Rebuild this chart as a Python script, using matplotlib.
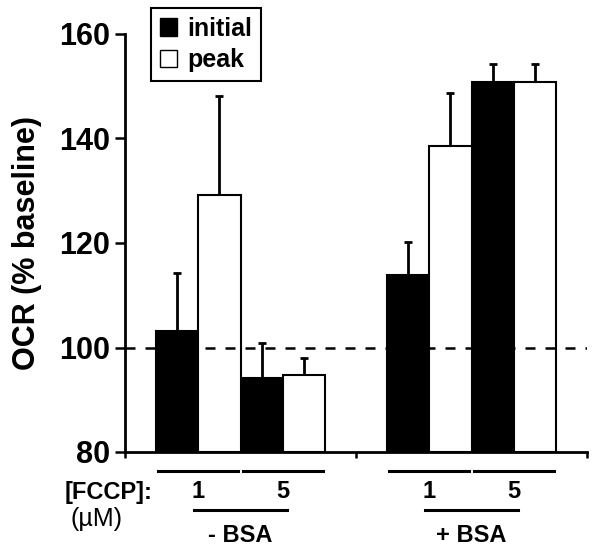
import matplotlib
matplotlib.use("Agg")
import matplotlib.pyplot as plt
import numpy as np
from matplotlib.transforms import blended_transform_factory
from matplotlib.patches import Patch

plt.rcParams['font.family'] = ['Liberation Sans', 'DejaVu Sans']
plt.rcParams['font.weight'] = 'bold'

groups = ['- BSA', '+ BSA']
fccp = ['1', '5']
initial = [103.2, 94.1, 113.9, 150.8]
initial_err = [11.0, 6.8, 6.2, 3.5]
peak = [129.1, 94.8, 138.6, 150.8]
peak_err = [19.0, 3.2, 10.2, 3.5]
yticks = [80, 100, 120, 140, 160]

W, H = 601, 550
fig = plt.figure(figsize=(W/100, H/100), dpi=100)
ax = fig.add_axes([125/W, 1-452/H, (587-125)/W, (452-34)/H])

w = 0.183
xi, xp = [], []
for g in range(len(groups)):
    for f in range(len(fccp)):
        xi.append(g + (-1.5 + 2*f)*w)
        xp.append(g + (-0.5 + 2*f)*w)

ax.bar(xi, [v-80 for v in initial], bottom=80, width=w, color='black', edgecolor='black', linewidth=1.5, zorder=2)
ax.bar(xp, [v-80 for v in peak], bottom=80, width=w, color='white', edgecolor='black', linewidth=1.5, zorder=2)
ax.errorbar(xi, initial, yerr=[np.zeros(4), initial_err], fmt='none', ecolor='black', elinewidth=2, capsize=3, capthick=2, zorder=1)
ax.errorbar(xp, peak, yerr=[np.zeros(4), peak_err], fmt='none', ecolor='black', elinewidth=2, capsize=3, capthick=2, zorder=1)
ax.axhline(100, color='black', linestyle=(0, (4, 4)), linewidth=1.8, zorder=3)

ax.set_xlim(-0.5, 1.5)
ax.set_ylim(80, 160)
ax.set_yticks(yticks)
ax.set_yticklabels([str(t) for t in yticks], fontsize=22, fontweight='bold')
ax.set_xticks([-0.5, 0.5, 1.5])
ax.set_xticklabels([])
ax.tick_params(axis='y', length=7, width=1.8, pad=4)
ax.tick_params(axis='x', length=4, width=1.8)
for s in ['top', 'right']:
    ax.spines[s].set_visible(False)
for s in ['left', 'bottom']:
    ax.spines[s].set_linewidth(2)
ax.set_ylabel('OCR (% baseline)', fontsize=22, fontweight='bold', labelpad=12)

tr = blended_transform_factory(ax.transData, fig.transFigure)
y1 = 1 - 471/H
y2 = 1 - 510/H
for g in range(len(groups)):
    for f in range(len(fccp)):
        c = g + (-1 + 2*f)*w
        ax.plot([c-0.173, c+0.173], [y1, y1], transform=tr, color='black', lw=2.2, clip_on=False)
        ax.text(c, 1-492/H, fccp[f], transform=tr, ha='center', va='center', fontsize=17, fontweight='bold')
    ax.plot([g-0.2, g+0.2], [y2, y2], transform=tr, color='black', lw=2.2, clip_on=False)
    ax.text(g, 1-535/H, groups[g], transform=tr, ha='center', va='center', fontsize=17, fontweight='bold')

fig.text(152/W, 1-492/H, '[FCCP]:', ha='right', va='center', fontsize=17, fontweight='bold')
fig.text(97/W, 1-519/H, '(\u00b5M)', ha='center', va='center', fontsize=18, fontweight='normal')

handles = [Patch(facecolor='black', edgecolor='black'), Patch(facecolor='white', edgecolor='black')]
leg = fig.legend(handles, ['initial', 'peak'], loc='upper left', bbox_to_anchor=(151/W, 1-8/H),
                 borderaxespad=0, fancybox=False, edgecolor='black', framealpha=1,
                 handlelength=0.7, handleheight=0.7,
                 handletextpad=0.4, borderpad=0.35, labelspacing=0.3, prop={'size': 18, 'weight': 'bold'})
leg.get_frame().set_linewidth(1.5)

fig.savefig('out.png', dpi=100)
